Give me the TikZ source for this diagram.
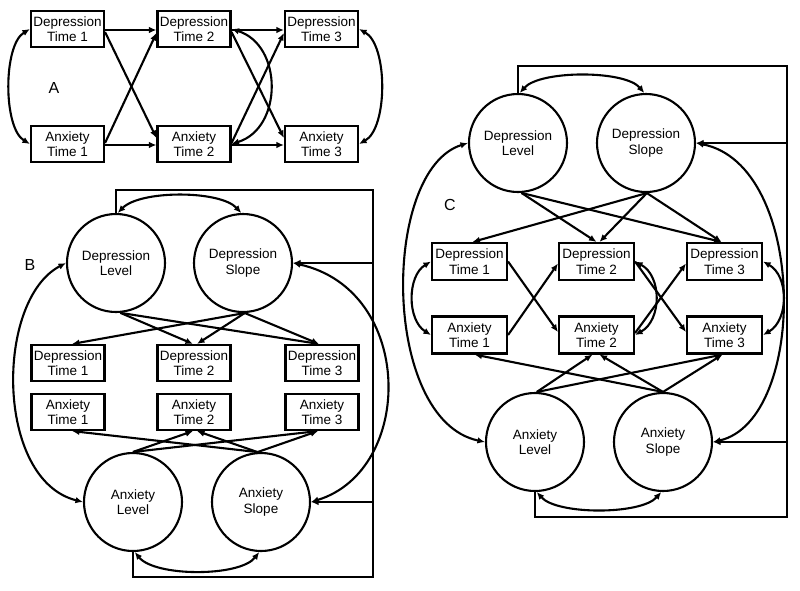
\documentclass[tikz,border=0pt]{standalone}
\usepackage{fontspec}
\setmainfont{Liberation Sans}
\usetikzlibrary{arrows.meta,calc}
\begin{document}
\begin{tikzpicture}[x=1pt,y=-1pt,
  every node/.style={font=\fontsize{13.5}{15.5}\selectfont},
  ln/.style={line width=2.1pt},
  box/.style={draw, line width=2.1pt, minimum width=73pt, minimum height=36pt, inner sep=0pt, align=center},
  lat/.style={draw, circle, line width=2.1pt, minimum size=98pt, inner sep=0pt, align=center},
  arr/.style={line width=2.1pt, -{Latex[length=7.5pt,width=6.5pt]}},
  dbl/.style={line width=2.1pt, {Latex[length=7.5pt,width=6.5pt]}-{Latex[length=7.5pt,width=6.5pt]}},
  plab/.style={font=\fontsize{16}{18}\selectfont}
]
\useasboundingbox (0,0) rectangle (800,590);

% ---------------- Panel A ----------------
\node[box] (a1) at (67.5,29) {Depression\\Time 1};
\node[box] (a2) at (194,29) {Depression\\Time 2};
\node[box] (a3) at (321.5,29) {Depression\\Time 3};
\node[box] (a4) at (67.5,144) {Anxiety\\Time 1};
\node[box] (a5) at (194,144) {Anxiety\\Time 2};
\node[box] (a6) at (321.5,144) {Anxiety\\Time 3};
\node[plab] (la) at (54,88) {A};

\draw[arr] ($(a1.east)+(0,1)$) -- ($(a2.west)+(0,1)$);
\draw[arr] ($(a1.east)+(0,3)$) -- ($(a5.west)+(0,-6)$);
\draw[arr] ($(a4.east)+(0,-1)$) -- ($(a2.west)+(0,4)$);
\draw[arr] ($(a4.east)+(0,1)$) -- ($(a5.west)+(0,1)$);
\draw[arr] ($(a2.east)+(0,1)$) -- ($(a3.west)+(0,1)$);
\draw[arr] ($(a2.east)+(0,3)$) -- ($(a6.west)+(0,-6)$);
\draw[arr] ($(a5.east)+(0,-1)$) -- ($(a3.west)+(0,4)$);
\draw[arr] ($(a5.east)+(0,1)$) -- ($(a6.west)+(0,1)$);
\draw[dbl] (a1.west) .. controls (3,45) and (3,128) .. (a4.west);
\draw[dbl] (a2.east) .. controls (283,45) and (283,128) .. (a5.east);
\draw[dbl] (a3.east) .. controls (388,45) and (388,128) .. (a6.east);

% ---------------- Panel B ----------------
\node[lat] (bdl) at (116,263) {Depression\\Level};
\node[lat] (bds) at (243,263) {Depression\\Slope};
\node[lat] (bal) at (133,502) {Anxiety\\Level};
\node[lat] (bas) at (261,502) {Anxiety\\Slope};
\node[box] (bd1) at (68,363) {Depression\\Time 1};
\node[box] (bd2) at (194,363) {Depression\\Time 2};
\node[box] (bd3) at (322,363) {Depression\\Time 3};
\node[box] (ba1) at (68,412) {Anxiety\\Time 1};
\node[box] (ba2) at (194,412) {Anxiety\\Time 2};
\node[box] (ba3) at (322,412) {Anxiety\\Time 3};
\node[plab] (lb) at (30,265) {B};

\draw[arr] (bdl.-85) -- ($(bd2.north)+(-1,0)$);
\draw[arr] (bdl.-85) -- ($(bd3.north)+(-3,0)$);
\draw[arr] (bds.-88) -- ($(bd1.north)+(4,0)$);
\draw[arr] (bds.-88) -- ($(bd2.north)+(3,0)$);
\draw[arr] (bds.-88) -- ($(bd3.north)+(-3,0)$);
\draw[arr] (bal.north) -- ($(ba2.south)+(-1,0)$);
\draw[arr] (bal.north) -- ($(ba3.south)+(-4,0)$);
\draw[arr] (bas.94) -- ($(ba1.south)+(4,0)$);
\draw[arr] (bas.94) -- ($(ba2.south)+(3,0)$);
\draw[arr] (bas.94) -- ($(ba3.south)+(-4,0)$);

\draw[dbl] (bdl.88) .. controls (140,190) and (220,190) .. (bds.92);
\draw[dbl] (bal.-88) .. controls (155,577) and (240,577) .. (bas.-92);

\coordinate (b1) at (116,190);
\coordinate (b2) at (373,190);
\coordinate (b3) at (373,577);
\coordinate (b4) at (133,577);
\draw[ln] (bdl.north) -- (b1) -- (b2) -- (b3) -- (b4) -- (bal.south);
\draw[arr] (bds.east -| b2) -- (bds.east);
\draw[arr] (bas.east -| b2) -- (bas.east);

\draw[dbl] (bdl.west) .. controls (-5,300) and (-5,480) .. (bal.west);
\draw[dbl] (bds.east) .. controls (415,290) and (415,470) .. (bas.east);

% ---------------- Panel C ----------------
\node[lat] (cdl) at (518,143) {Depression\\Level};
\node[lat] (cds) at (646,143) {Depression\\Slope};
\node[lat] (cal) at (535,442) {Anxiety\\Level};
\node[lat] (cas) at (663,442) {Anxiety\\Slope};
\node[box, minimum width=75pt, minimum height=37pt] (cd1) at (469.5,261.5) {Depression\\Time 1};
\node[box, minimum width=75pt, minimum height=37pt] (cd2) at (596.5,261.5) {Depression\\Time 2};
\node[box, minimum width=75pt, minimum height=37pt] (cd3) at (724.5,261.5) {Depression\\Time 3};
\node[box, minimum width=75pt, minimum height=37pt] (ca1) at (469.5,335) {Anxiety\\Time 1};
\node[box, minimum width=75pt, minimum height=37pt] (ca2) at (596.5,335) {Anxiety\\Time 2};
\node[box, minimum width=75pt, minimum height=37pt] (ca3) at (724.5,335) {Anxiety\\Time 3};
\node[plab] (lc) at (450,205) {C};

\draw[arr] (cdl.-86) -- (cd2.north);
\draw[arr] (cdl.-86) -- ($(cd3.north)+(-3,0)$);
\draw[arr] (cds.-89) -- ($(cd1.north)+(3,0)$);
\draw[arr] (cds.-89) -- ($(cd2.north)+(3,0)$);
\draw[arr] (cds.-89) -- ($(cd3.north)+(-3,0)$);

\draw[arr] (cd1.east) -- ($(ca2.west)+(0,-3)$);
\draw[arr] (ca1.east) -- ($(cd2.west)+(0,2)$);
\draw[arr] (cd2.east) -- ($(ca3.west)+(0,-3)$);
\draw[arr] ($(ca2.east)+(0,-2)$) -- ($(cd3.west)+(0,2)$);
\draw[dbl] (cd1.west) .. controls (407,276) and (407,320) .. (ca1.west);
\draw[dbl] (cd2.east) .. controls (662,276) and (662,320) .. (ca2.east);
\draw[dbl] (cd3.east) .. controls (789,276) and (789,320) .. (ca3.east);

\draw[arr] (cal.88) -- ($(ca2.south)+(-4,0)$);
\draw[arr] (cal.88) -- ($(ca3.south)+(-2,0)$);
\draw[arr] (cas.90) -- ($(ca1.south)+(5,0)$);
\draw[arr] (cas.90) -- ($(ca2.south)+(3,0)$);
\draw[arr] (cas.90) -- ($(ca3.south)+(-2,0)$);

\draw[dbl] (cdl.88) .. controls (540,70) and (625,70) .. (cds.92);
\draw[dbl] (cal.-88) .. controls (557,515) and (641,515) .. (cas.-92);

\coordinate (c1) at (518,66);
\coordinate (c2) at (787,66);
\coordinate (c3) at (787,517);
\coordinate (c4) at (535,517);
\draw[ln] (cdl.north) -- (c1) -- (c2) -- (c3) -- (c4) -- (cal.south);
\draw[arr] (cds.east -| c2) -- (cds.east);
\draw[arr] (cas.east -| c2) -- (cas.east);

\draw[dbl] (cdl.west) .. controls (381,170) and (381,420) .. (cal.west);
\draw[dbl] (cds.east) .. controls (808,165) and (808,420) .. (cas.east);
\end{tikzpicture}
\end{document}
